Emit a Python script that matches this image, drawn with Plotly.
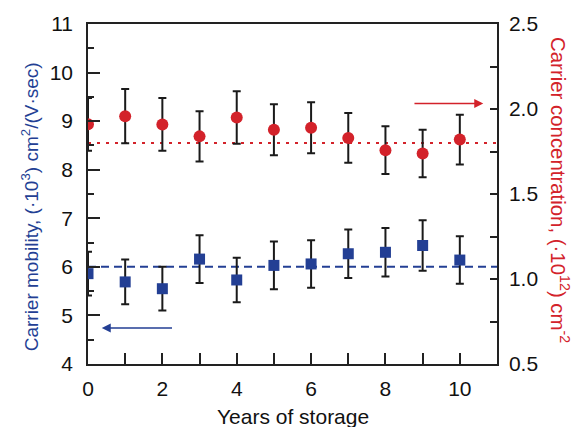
import plotly.graph_objects as go

years = [0, 1, 2, 3, 4, 5, 6, 7, 8, 9, 10]
mobility = [5.86, 5.69, 5.55, 6.16, 5.73, 6.03, 6.06, 6.27, 6.30, 6.44, 6.14]
mobility_err = [0.45, 0.46, 0.45, 0.49, 0.46, 0.49, 0.49, 0.50, 0.50, 0.52, 0.49]
concentration = [1.91, 1.958, 1.909, 1.839, 1.95, 1.878, 1.89, 1.83, 1.758, 1.738, 1.82]
concentration_err = [0.155, 0.16, 0.155, 0.148, 0.155, 0.15, 0.15, 0.146, 0.14, 0.14, 0.146]
mobility_mean = 6.0
concentration_mean = 1.8
x_span = [0, 11]

BLUE = "#233F94"
RED = "#D3222A"
FONT = "Liberation Sans, Arial, sans-serif"

fig = go.Figure()

fig.add_trace(go.Scatter(
    x=x_span, y=[mobility_mean] * 2, mode="lines",
    line=dict(color=BLUE, width=2, dash="8px,5px"), showlegend=False, yaxis="y"))
fig.add_trace(go.Scatter(
    x=x_span, y=[concentration_mean] * 2, mode="lines",
    line=dict(color=RED, width=2, dash="3px,6px"), showlegend=False, yaxis="y2"))

fig.add_trace(go.Scatter(
    x=years, y=mobility, mode="markers",
    marker=dict(symbol="square", size=11, color=BLUE),
    error_y=dict(type="data", array=mobility_err, color="#1a1a1a", thickness=2, width=4),
    showlegend=False, yaxis="y"))
fig.add_trace(go.Scatter(
    x=years, y=concentration, mode="markers",
    marker=dict(symbol="circle", size=12, color=RED),
    error_y=dict(type="data", array=concentration_err, color="#1a1a1a", thickness=2, width=4),
    showlegend=False, yaxis="y2"))

fig.update_layout(
    width=576, height=427,
    margin=dict(l=88, r=79, t=21, b=63),
    plot_bgcolor="white", paper_bgcolor="white",
    font=dict(family=FONT, size=21, color="#111111"),
    xaxis=dict(
        range=[0, 11], showgrid=False, zeroline=False,
        showline=True, linecolor="#222222", linewidth=1.5, mirror=True,
        ticks="inside", ticklen=11, tickwidth=1.5, tickcolor="#222222",
        tickvals=[0, 2, 4, 6, 8, 10], ticklabelstandoff=5,
        minor=dict(dtick=1, ticks="inside", ticklen=11, tickwidth=1.5, tickcolor="#222222"),
    ),
    yaxis=dict(
        range=[4, 11], showgrid=False, zeroline=False,
        showline=True, linecolor="#222222", linewidth=1.5,
        ticks="inside", ticklen=12, tickwidth=1.5, tickcolor="#222222",
        dtick=1, ticklabelstandoff=9,
        minor=dict(dtick=0.5, ticks="inside", ticklen=6, tickwidth=1.5, tickcolor="#222222"),
    ),
    yaxis2=dict(
        range=[0.5, 2.5], overlaying="y", side="right",
        showgrid=False, zeroline=False,
        showline=True, linecolor="#222222", linewidth=1.5,
        ticks="inside", ticklen=7, tickwidth=1.5, tickcolor="#222222",
        dtick=0.5, tickformat=".1f", ticklabelstandoff=6,
        minor=dict(dtick=0.25, ticks="inside", ticklen=7, tickwidth=1.5, tickcolor="#222222"),
    ),
)

fig.add_annotation(
    text="Carrier mobility, (·10<sup>3</sup>) cm<sup>2</sup>/(V·sec)",
    xref="paper", yref="paper", x=-0.142, y=0.4636, xanchor="center", yanchor="middle",
    textangle=-90, showarrow=False, font=dict(size=19, color=BLUE, family=FONT))
fig.add_annotation(
    text="Carrier concentration, (·10<sup>12</sup>) cm<sup>-2</sup>",
    xref="paper", yref="paper", x=1.154, y=0.5117, xanchor="center", yanchor="middle",
    textangle=90, showarrow=False, font=dict(size=20.4, color=RED, family=FONT))
fig.add_annotation(
    text="Years of storage",
    xref="paper", yref="paper", x=0.5, y=-0.153, xanchor="center", yanchor="middle",
    showarrow=False, font=dict(size=21, color="#111111", family=FONT))

# direction arrows
fig.add_annotation(
    x=10.63, y=2.033, xref="x", yref="y2", ax=8.74, ay=2.033, axref="x", ayref="y2",
    text="", showarrow=True, arrowhead=2, arrowsize=1.2, arrowwidth=1.5, arrowcolor=RED)
fig.add_annotation(
    x=0.37, y=4.74, xref="x", yref="y", ax=2.3, ay=4.74, axref="x", ayref="y",
    text="", showarrow=True, arrowhead=2, arrowsize=1.2, arrowwidth=1.5, arrowcolor=BLUE)

fig.write_html("out.html", config={"displayModeBar": False},
               post_script="document.body.style.margin='0';document.body.style.overflow='hidden';")
